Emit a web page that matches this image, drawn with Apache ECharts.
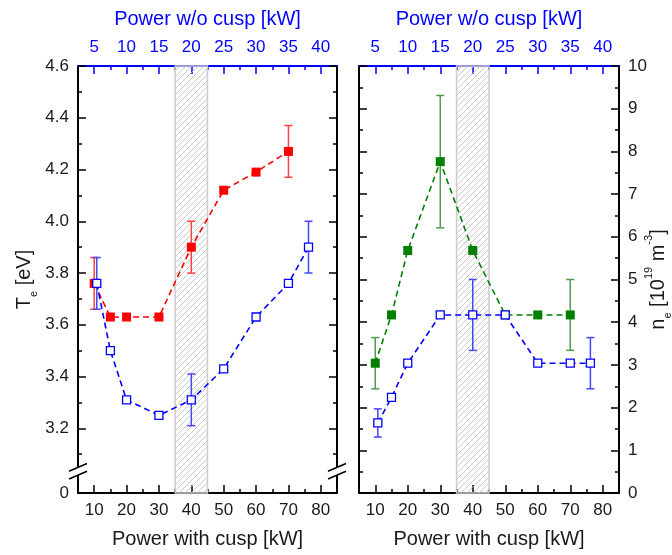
<!DOCTYPE html>
<html><head><meta charset="utf-8">
<script src="https://cdn.jsdelivr.net/npm/echarts@6/dist/echarts.min.js"></script>
<style>html,body{margin:0;padding:0;background:#fff}#c{width:672px;height:555px}</style>
</head><body><div id="c"></div><script>
// ---------- data ----------
const powerWithCusp = [10, 15, 20, 30, 40, 50, 60, 70];          // bottom axis [kW]
const powerNoCusp   = [5.4, 7.5, 10, 15, 20, 25, 30, 35, 38.1];  // top axis [kW]

const teWithCusp    = [3.76, 3.63, 3.63, 3.63, 3.90, 4.12, 4.19, 4.27];
const teWithCuspErr = [0.10, null, null, null, 0.10, null, null, 0.10];
const teNoCusp      = [3.76, 3.50, 3.31, 3.25, 3.31, 3.43, 3.63, 3.76, 3.90];
const teNoCuspErr   = [0.10, null, null, null, 0.10, null, null, null, 0.10];

const neWithCusp    = [3.04, 4.17, 5.68, 7.76, 5.68, 4.17, 4.17, 4.17];
const neWithCuspErr = [0.60, null, null, 1.55, null, null, null, 0.83];
const neNoCusp      = [1.64, 2.24, 3.04, 4.17, 4.17, 4.17, 3.04, 3.04, 3.04];
const neNoCuspErr   = [0.33, null, null, null, 0.83, null, null, null, 0.60];

const excludedBand = [35, 45];   // hatched band, bottom-axis units

// ---------- ticks ----------
const bottomRange = [5, 85];
const topRange = [2.5, 42.5];
const bottomMajor = [10, 20, 30, 40, 50, 60, 70, 80];
const bottomMinor = [15, 25, 35, 45, 55, 65, 75];
const topMajor = [5, 10, 15, 20, 25, 30, 35, 40];
const topMinor = [7.5, 12.5, 17.5, 22.5, 27.5, 32.5, 37.5];
const teRange = [2.95, 4.6];
const teMajor = [3.2, 3.4, 3.6, 3.8, 4.0, 4.2, 4.4, 4.6];
const teMinor = [3.1, 3.3, 3.5, 3.7, 3.9, 4.1, 4.3, 4.5];
const teLabels = [2.95, 3.2, 3.4, 3.6, 3.8, 4.0, 4.2, 4.4, 4.6];
const teBreakAt = 3.034;
const neRange = [0, 10];
const neMajor = [0, 1, 2, 3, 4, 5, 6, 7, 8, 9, 10];
const neMinor = [0.5, 1.5, 2.5, 3.5, 4.5, 5.5, 6.5, 7.5, 8.5, 9.5];

// ---------- styles ----------
const FONT = 'Liberation Sans';
const RED = '#ff0000', BLUE = '#0000ff', GREEN = '#007f00';
const RED_ERR = '#ff4040', BLUE_ERR = '#4646ff', GREEN_ERR = '#4f9c4f';
const TXT = '#1a1a1a';

function hatchCanvas() {
  const c = document.createElement('canvas');
  c.width = 6; c.height = 6;
  const g = c.getContext('2d');
  g.strokeStyle = '#bdbdbd'; g.lineWidth = 0.8;
  g.beginPath();
  g.moveTo(0, 6); g.lineTo(6, 0);
  g.moveTo(-1, 1); g.lineTo(1, -1);
  g.moveTo(5, 7); g.lineTo(7, 5);
  g.stroke();
  return c;
}

function xAxesFor(gi) {
  const base = {gridIndex: gi, type: 'value', splitLine: {show: false}};
  return [
    Object.assign({}, base, {position: 'bottom', min: bottomRange[0], max: bottomRange[1],
      axisLine: {show: true, onZero: false, lineStyle: {color: '#000', width: 2}},
      axisTick: {show: true, inside: true, length: 8, customValues: bottomMajor, lineStyle: {color: '#000', width: 1.5}},
      axisLabel: {show: true, customValues: bottomMajor, margin: 9, fontSize: 17, color: TXT, fontFamily: FONT},
      name: 'Power with cusp [kW]', nameLocation: 'middle', nameGap: 36,
      nameTextStyle: {fontSize: 20, color: TXT, fontFamily: FONT}}),
    Object.assign({}, base, {position: 'bottom', min: bottomRange[0], max: bottomRange[1],
      axisLine: {show: false, onZero: false},
      axisTick: {show: true, inside: true, length: 4, customValues: bottomMinor, lineStyle: {color: '#000', width: 1.5}},
      axisLabel: {show: false}}),
    Object.assign({}, base, {position: 'top', min: topRange[0], max: topRange[1],
      axisLine: {show: true, onZero: false, lineStyle: {color: BLUE, width: 2}},
      axisTick: {show: true, inside: true, length: 8, customValues: topMajor, lineStyle: {color: BLUE, width: 1.5}},
      axisLabel: {show: true, customValues: topMajor, margin: 10, fontSize: 17, color: BLUE, fontFamily: FONT},
      name: 'Power w/o cusp [kW]', nameLocation: 'middle', nameGap: 37,
      nameTextStyle: {fontSize: 20, color: BLUE, fontFamily: FONT}}),
    Object.assign({}, base, {position: 'top', min: topRange[0], max: topRange[1],
      axisLine: {show: false, onZero: false},
      axisTick: {show: true, inside: true, length: 4, customValues: topMinor, lineStyle: {color: BLUE, width: 1.5}},
      axisLabel: {show: false}})
  ];
}

function yAxesFor(gi, range, major, minor, labelSide, labelValues, fmt, name, nameGap) {
  const base = {gridIndex: gi, type: 'value', min: range[0], max: range[1], splitLine: {show: false}};
  const sides = ['left', 'right'];
  const out = [];
  sides.forEach(side => {
    const withLabel = side === labelSide;
    const major_ = Object.assign({}, base, {position: side,
      axisLine: {show: true, onZero: false, lineStyle: {color: '#000', width: 2}},
      axisTick: {show: true, inside: true, length: 8, customValues: major, lineStyle: {color: '#000', width: 1.5}},
      axisLabel: withLabel ? {show: true, customValues: labelValues, formatter: fmt, margin: 9, fontSize: 17, color: TXT, fontFamily: FONT} : {show: false}
    });
    if (withLabel) {
      Object.assign(major_, {name: name, nameLocation: 'middle', nameGap: nameGap, nameRotate: 90,
        nameMoveOverlap: false,
        nameTextStyle: {fontSize: 20, color: TXT, fontFamily: FONT,
          rich: {
            n: {fontSize: 20, color: TXT, fontFamily: FONT},
            sub: {fontSize: 11, color: TXT, fontFamily: FONT, verticalAlign: 'bottom', lineHeight: 30},
            sup: {fontSize: 11, color: TXT, fontFamily: FONT, verticalAlign: 'top', lineHeight: 30}
          }}});
    }
    out.push(major_);
    out.push(Object.assign({}, base, {position: side,
      axisLine: {show: false, onZero: false},
      axisTick: {show: true, inside: true, length: 4, customValues: minor, lineStyle: {color: '#000', width: 1.5}},
      axisLabel: {show: false}}));
  });
  return out;
}

function pairs(xs, ys) { return xs.map((x, i) => [x, ys[i]]); }

function errSeries(xs, ys, es, color, xi, yi, z) {
  const data = [];
  xs.forEach((x, i) => { if (es[i] != null) data.push([x, ys[i], es[i]]); });
  return {
    type: 'custom', xAxisIndex: xi, yAxisIndex: yi, z: z, silent: true, data: data,
    encode: {x: 0, y: 1},
    renderItem: function (params, api) {
      const x = api.value(0), y = api.value(1), e = api.value(2);
      const lo = api.coord([x, y - e]), hi = api.coord([x, y + e]);
      const w = 4;
      const style = {stroke: color, lineWidth: 1.5, fill: null};
      return {type: 'group', children: [
        {type: 'line', shape: {x1: lo[0], y1: lo[1], x2: hi[0], y2: hi[1]}, style: style},
        {type: 'line', shape: {x1: lo[0] - w, y1: lo[1], x2: lo[0] + w, y2: lo[1]}, style: style},
        {type: 'line', shape: {x1: hi[0] - w, y1: hi[1], x2: hi[0] + w, y2: hi[1]}, style: style}
      ]};
    }
  };
}

function lineSeries(xs, ys, color, filled, xi, yi, z) {
  return {
    type: 'line', xAxisIndex: xi, yAxisIndex: yi, z: z, silent: true,
    data: pairs(xs, ys), symbol: 'rect', symbolSize: filled ? 9 : 8, showSymbol: true,
    lineStyle: {color: color, width: 1.6, type: [6, 4]},
    itemStyle: {color: filled ? color : '#ffffff', borderColor: color, borderWidth: filled ? 0 : 1.3}
  };
}

function bandSeries(xi, yi) {
  return {
    type: 'line', xAxisIndex: xi, yAxisIndex: yi, z: 1, data: [], silent: true,
    markArea: {silent: true,
      itemStyle: {color: {image: hatchCanvas(), repeat: 'repeat'}, borderColor: '#cccccc', borderWidth: 1.5},
      data: [[{xAxis: excludedBand[0]}, {xAxis: excludedBand[1]}]]}
  };
}

const teFmt = v => (v < 3 ? '0' : v.toFixed(1));
const neFmt = v => String(Math.round(v));

const option = {
  animation: false,
  backgroundColor: '#ffffff',
  textStyle: {fontFamily: FONT},
  grid: [
    {left: 78, top: 66, width: 259, height: 427, containLabel: false, outerBoundsMode: 'none'},
    {left: 359, top: 66, width: 260, height: 427, containLabel: false, outerBoundsMode: 'none'}
  ],
  xAxis: xAxesFor(0).concat(xAxesFor(1)),
  yAxis: yAxesFor(0, teRange, teMajor, teMinor, 'left', teLabels, teFmt,
      '{n|T}{sub|e}{n| [eV]}', 39)
    .concat(yAxesFor(1, neRange, neMajor, neMinor, 'right', neMajor, neFmt,
      '{n|n}{sub|e}{n| [10}{sup|19}{n| m}{sup|-3}{n|]}', 24)),
  series: [
    bandSeries(0, 0),
    errSeries(powerWithCusp, teWithCusp, teWithCuspErr, RED_ERR, 0, 0, 3),
    lineSeries(powerWithCusp, teWithCusp, RED, true, 0, 0, 4),
    errSeries(powerNoCusp, teNoCusp, teNoCuspErr, BLUE_ERR, 2, 0, 5),
    lineSeries(powerNoCusp, teNoCusp, BLUE, false, 2, 0, 6),

    bandSeries(4, 4),
    errSeries(powerWithCusp, neWithCusp, neWithCuspErr, GREEN_ERR, 4, 4, 3),
    lineSeries(powerWithCusp, neWithCusp, GREEN, true, 4, 4, 4),
    errSeries(powerNoCusp, neNoCusp, neNoCuspErr, BLUE_ERR, 6, 4, 5),
    lineSeries(powerNoCusp, neNoCusp, BLUE, false, 6, 4, 6)
  ]
};

const chart = echarts.init(document.getElementById('c'), null, {renderer: 'canvas'});
chart.setOption(option);

// axis-break marks on the left panel's spines
const pL = chart.convertToPixel({gridIndex: 0}, [bottomRange[0], teBreakAt]);
const pR = chart.convertToPixel({gridIndex: 0}, [bottomRange[1], teBreakAt]);
function breakMark(p) {
  const cx = p[0], cy = p[1], dx = 9, dy = 3.9, h = 3.9;
  return [
    {type: 'polygon', z: 100, shape: {points: [[cx - dx, cy + dy - h], [cx + dx, cy - dy - h], [cx + dx, cy - dy + h], [cx - dx, cy + dy + h]]},
      style: {fill: '#ffffff'}},
    {type: 'line', z: 101, shape: {x1: cx - dx, y1: cy + dy - h, x2: cx + dx, y2: cy - dy - h}, style: {stroke: '#000', lineWidth: 1.5}},
    {type: 'line', z: 101, shape: {x1: cx - dx, y1: cy + dy + h, x2: cx + dx, y2: cy - dy + h}, style: {stroke: '#000', lineWidth: 1.5}}
  ];
}
chart.setOption({graphic: breakMark(pL).concat(breakMark(pR))});
</script></body></html>
